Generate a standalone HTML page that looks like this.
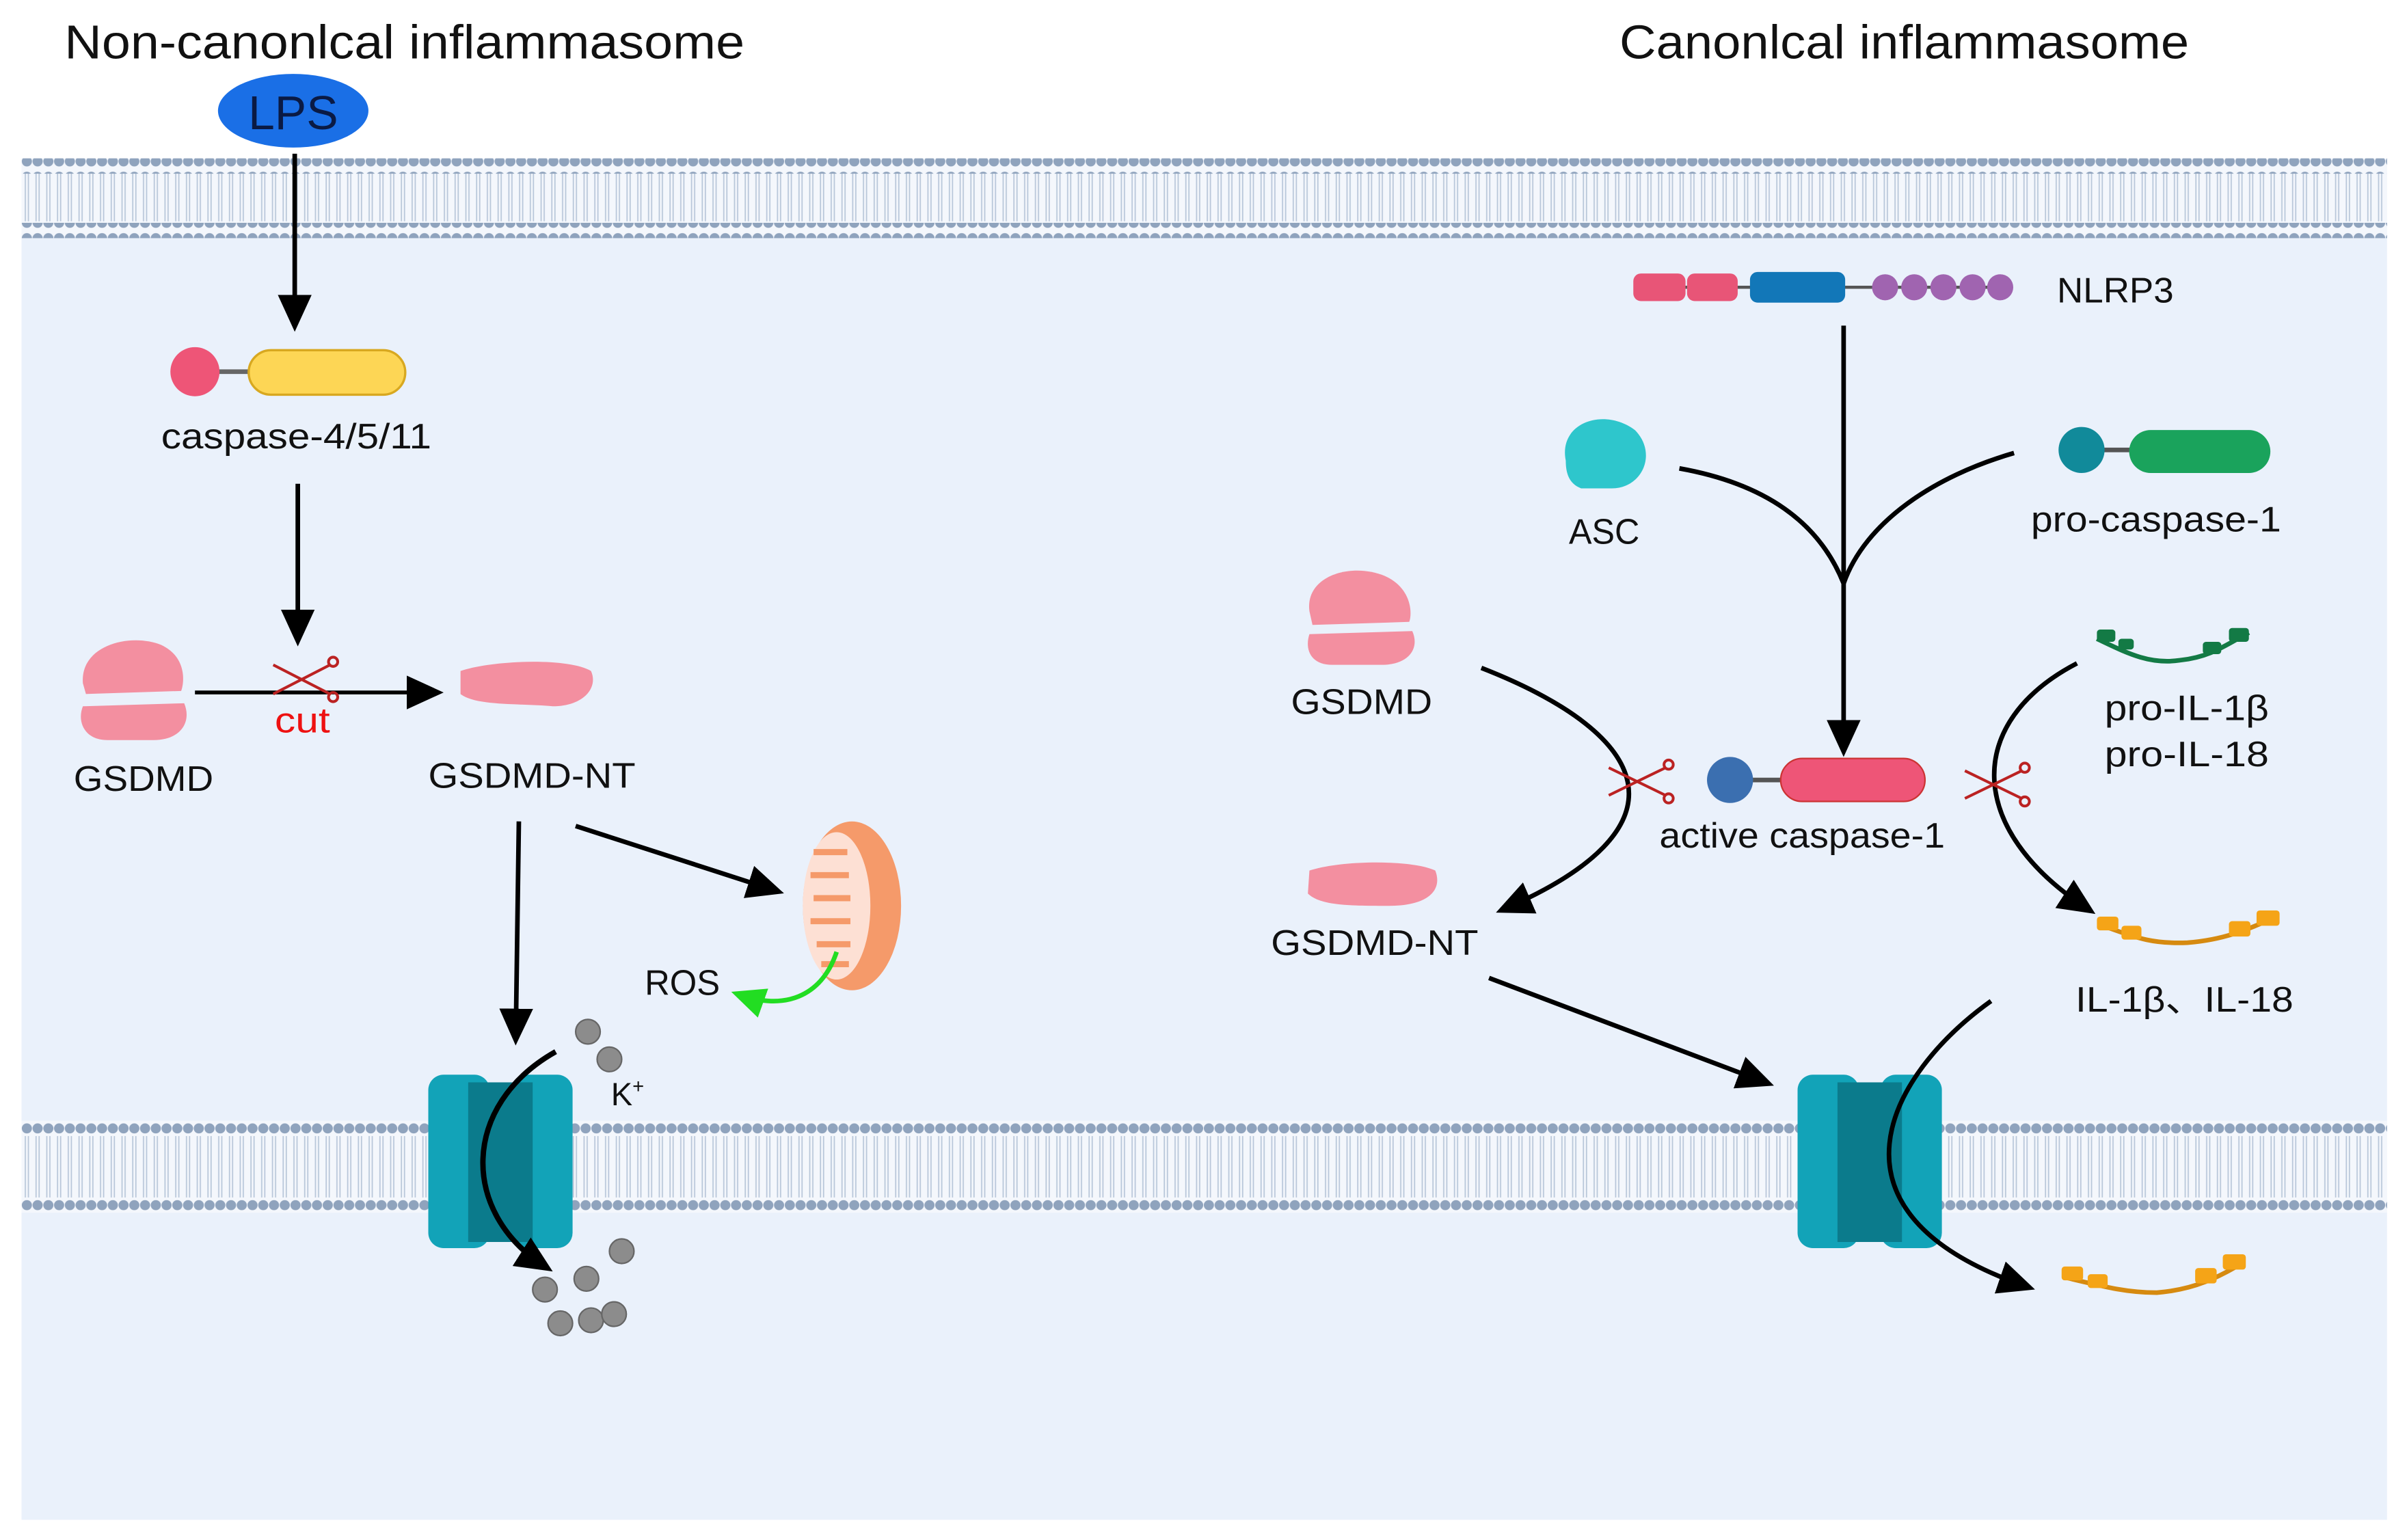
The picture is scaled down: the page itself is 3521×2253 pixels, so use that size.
<!DOCTYPE html>
<html><head><meta charset="utf-8"><style>
html,body{margin:0;padding:0;background:#fff}
svg{display:block}
text{font-family:"Liberation Sans","DejaVu Sans",sans-serif;fill:#111}
</style></head><body>
<svg width="3521" height="2253" viewBox="0 0 1568 1003" xmlns="http://www.w3.org/2000/svg">
<defs>
<marker id="ahb" markerWidth="24" markerHeight="22" refX="18" refY="11" orient="auto" markerUnits="userSpaceOnUse">
<path d="M0,0 L24,11 L0,22 z" fill="#000"/></marker>
<marker id="ahg" markerWidth="22" markerHeight="20" refX="16" refY="10" orient="auto" markerUnits="userSpaceOnUse">
<path d="M0,0 L22,10 L0,20 z" fill="#22dd22"/></marker>
<pattern id="beads" width="7" height="10" patternUnits="userSpaceOnUse">
<circle cx="3.5" cy="5" r="3.3" fill="#8fa3bd"/></pattern>
<pattern id="tails" width="7" height="30" patternUnits="userSpaceOnUse">
<line x1="2.5" y1="0" x2="2.5" y2="30" stroke="#b9c7da" stroke-width="0.8"/>
<line x1="4.5" y1="0" x2="4.5" y2="30" stroke="#b9c7da" stroke-width="0.8"/></pattern>
</defs>
<rect x="14" y="105" width="1541" height="885" fill="#eaf1fb"/>
<rect x="14" y="103" width="1541" height="52" fill="#f4f7fc"/>
<rect x="14" y="112" width="1541" height="32" fill="url(#tails)"/>
<rect x="14" y="103" width="1541" height="10" fill="url(#beads)"/>
<rect x="14" y="145" width="1541" height="10" fill="url(#beads)"/>
<rect x="14" y="730" width="1541" height="60" fill="#f4f7fc"/>
<rect x="14" y="740" width="1541" height="40" fill="url(#tails)"/>
<rect x="14" y="730" width="1541" height="10" fill="url(#beads)"/>
<rect x="14" y="780" width="1541" height="10" fill="url(#beads)"/>

<text x="42" y="38" font-size="31" textLength="443" lengthAdjust="spacingAndGlyphs">Non-canonlcal inflammasome</text>
<text x="1055" y="38" font-size="31" textLength="371" lengthAdjust="spacingAndGlyphs">Canonlcal inflammasome</text>

<ellipse cx="191" cy="72" rx="49" ry="24" fill="#1a6fe6"/>
<text x="191" y="84" font-size="31" text-anchor="middle" style="fill:#0a1a44">LPS</text>
<line x1="192" y1="100" x2="192" y2="210" stroke="#000" stroke-width="3" marker-end="url(#ahb)"/>
<line x1="140" y1="242" x2="165" y2="242" stroke="#666" stroke-width="3"/>
<circle cx="127" cy="242" r="16" fill="#ee5577"/>
<rect x="162" y="228" width="102" height="29" rx="14.5" fill="#fdd655" stroke="#d8a820" stroke-width="1.5"/>
<text x="105" y="292" font-size="23" textLength="176" lengthAdjust="spacingAndGlyphs">caspase-4/5/11</text>
<line x1="194" y1="315" x2="194" y2="415" stroke="#000" stroke-width="3" marker-end="url(#ahb)"/>

<g fill="#f38fa0">
<path d="M54,445 C52,420 85,412 105,420 C122,428 120,445 118,450 L56,452 Z"/>
<path d="M54,460 L120,458 C125,470 118,482 100,482 L70,482 C55,482 50,470 54,460 Z"/>
</g>
<text x="48" y="515" font-size="23" textLength="91" lengthAdjust="spacingAndGlyphs">GSDMD</text>
<line x1="127" y1="451" x2="283" y2="451" stroke="#000" stroke-width="2.5" marker-end="url(#ahb)"/>
<g stroke="#b22" stroke-width="1.8" fill="none">
<line x1="178" y1="433" x2="215" y2="452"/><line x1="178" y1="452" x2="215" y2="433"/>
<circle cx="217" cy="431" r="3"/><circle cx="217" cy="454" r="3"/></g>
<text x="179" y="477" font-size="23" textLength="36" lengthAdjust="spacingAndGlyphs" style="fill:#ee1111">cut</text>
<path d="M300,437 C320,430 370,428 385,437 C390,448 380,460 360,460 C340,458 310,460 300,452 Z" fill="#f38fa0"/>
<text x="279" y="513" font-size="23" textLength="135" lengthAdjust="spacingAndGlyphs">GSDMD-NT</text>
<line x1="338" y1="535" x2="336" y2="675" stroke="#000" stroke-width="3" marker-end="url(#ahb)"/>
<line x1="375" y1="538" x2="505" y2="580" stroke="#000" stroke-width="3" marker-end="url(#ahb)"/>
<ellipse cx="555" cy="590" rx="32" ry="55" fill="#f59a6a"/>
<ellipse cx="545" cy="590" rx="22" ry="48" fill="#fde0d4"/>
<path d="M530,555 h22 M528,570 h25 M530,585 h24 M528,600 h26 M532,615 h22 M535,628 h18" stroke="#f59a6a" stroke-width="4"/>
<text x="420" y="648" font-size="23" textLength="49" lengthAdjust="spacingAndGlyphs">ROS</text>
<path d="M545,620 C535,650 510,658 482,648" stroke="#22dd22" stroke-width="3" fill="none" marker-end="url(#ahg)"/>
<rect x="279" y="700" width="40" height="113" rx="10" fill="#12a3b8"/>
<rect x="333" y="700" width="40" height="113" rx="10" fill="#12a3b8"/>
<rect x="305" y="705" width="42" height="104" fill="#0b7b8c"/>
<path d="M362,685 C300,720 300,790 355,825" stroke="#000" stroke-width="3.5" fill="none" marker-end="url(#ahb)"/>
<g fill="#8c8c8c" stroke="#666" stroke-width="1">
<circle cx="383" cy="672" r="8"/><circle cx="397" cy="690" r="8"/>
<circle cx="405" cy="815" r="8"/><circle cx="382" cy="833" r="8"/><circle cx="355" cy="840" r="8"/>
<circle cx="365" cy="862" r="8"/><circle cx="385" cy="860" r="8"/><circle cx="400" cy="856" r="8"/>
</g>
<text x="398" y="720" font-size="21">K<tspan font-size="13" dy="-8">+</tspan></text>

<line x1="1070" y1="187" x2="1305" y2="187" stroke="#555" stroke-width="2"/>
<rect x="1064" y="178" width="34" height="18" rx="5" fill="#e85577"/>
<rect x="1099" y="178" width="33" height="18" rx="5" fill="#e85577"/>
<rect x="1140" y="177" width="62" height="20" rx="5" fill="#1277b8"/>
<g fill="#a064b0"><circle cx="1228" cy="187" r="8.5"/><circle cx="1247" cy="187" r="8.5"/><circle cx="1266" cy="187" r="8.5"/><circle cx="1285" cy="187" r="8.5"/><circle cx="1303" cy="187" r="8.5"/></g>
<text x="1340" y="197" font-size="23" textLength="76" lengthAdjust="spacingAndGlyphs">NLRP3</text>
<line x1="1201" y1="212" x2="1201" y2="487" stroke="#000" stroke-width="3" marker-end="url(#ahb)"/>
<path d="M1020,300 C1015,275 1045,265 1065,280 C1080,295 1070,318 1050,318 L1030,318 C1022,315 1020,308 1020,300 Z" fill="#2ec6cc"/>
<text x="1022" y="354" font-size="23" textLength="46" lengthAdjust="spacingAndGlyphs">ASC</text>
<path d="M1094,305 C1150,315 1185,340 1201,380 C1215,340 1260,310 1312,295" stroke="#000" stroke-width="3" fill="none"/>
<line x1="1365" y1="293" x2="1390" y2="293" stroke="#555" stroke-width="3"/>
<circle cx="1356" cy="293" r="15" fill="#118a9a"/>
<rect x="1387" y="280" width="92" height="28" rx="14" fill="#1aa35c"/>
<text x="1323" y="346" font-size="23" textLength="163" lengthAdjust="spacingAndGlyphs">pro-caspase-1</text>

<g fill="#f38fa0">
<path d="M853,398 C850,375 880,366 902,375 C920,383 920,400 918,405 L855,407 Z"/>
<path d="M853,413 L920,411 C925,422 918,433 900,433 L868,433 C853,433 850,422 853,413 Z"/>
</g>
<text x="841" y="465" font-size="23" textLength="92" lengthAdjust="spacingAndGlyphs">GSDMD</text>
<path d="M965,435 C1080,480 1100,540 980,592" stroke="#000" stroke-width="3" fill="none" marker-end="url(#ahb)"/>
<g stroke="#b22" stroke-width="1.8" fill="none">
<line x1="1048" y1="500" x2="1085" y2="518"/><line x1="1048" y1="518" x2="1085" y2="500"/>
<circle cx="1087" cy="498" r="3"/><circle cx="1087" cy="520" r="3"/></g>
<path d="M853,567 C875,560 920,560 935,567 C940,580 930,590 905,590 C880,590 860,590 852,582 Z" fill="#f38fa0"/>
<text x="828" y="622" font-size="23" textLength="135" lengthAdjust="spacingAndGlyphs">GSDMD-NT</text>
<line x1="970" y1="637" x2="1150" y2="705" stroke="#000" stroke-width="3" marker-end="url(#ahb)"/>

<line x1="1140" y1="508" x2="1165" y2="508" stroke="#555" stroke-width="3"/>
<circle cx="1127" cy="508" r="15" fill="#3b6fb0"/>
<rect x="1160" y="494" width="94" height="28" rx="14" fill="#ee5577" stroke="#c33" stroke-width="1"/>
<text x="1081" y="552" font-size="23" textLength="186" lengthAdjust="spacingAndGlyphs">active caspase-1</text>

<path d="M1366,416 C1385,425 1400,433 1420,430 C1440,428 1450,420 1465,412" stroke="#137a45" stroke-width="3" fill="none"/>
<g fill="#137a45"><rect x="1366" y="410" width="12" height="8" rx="2"/><rect x="1380" y="416" width="10" height="7" rx="2"/><rect x="1435" y="418" width="12" height="8" rx="2"/><rect x="1452" y="409" width="13" height="9" rx="2"/></g>
<text x="1371" y="469" font-size="23" textLength="107" lengthAdjust="spacingAndGlyphs">pro-IL-1β</text>
<text x="1371" y="499" font-size="23" textLength="107" lengthAdjust="spacingAndGlyphs">pro-IL-18</text>
<path d="M1353,432 C1280,470 1280,540 1360,592" stroke="#000" stroke-width="3" fill="none" marker-end="url(#ahb)"/>
<g stroke="#b22" stroke-width="1.8" fill="none">
<line x1="1280" y1="502" x2="1317" y2="520"/><line x1="1280" y1="520" x2="1317" y2="502"/>
<circle cx="1319" cy="500" r="3"/><circle cx="1319" cy="522" r="3"/></g>
<path d="M1367,602 C1390,610 1400,615 1425,614 C1450,612 1465,605 1483,597" stroke="#d68a10" stroke-width="3" fill="none"/>
<g fill="#f5a417"><rect x="1366" y="597" width="14" height="9" rx="2"/><rect x="1382" y="603" width="13" height="9" rx="2"/><rect x="1452" y="600" width="14" height="10" rx="2"/><rect x="1470" y="593" width="15" height="10" rx="2"/></g>
<text x="1352" y="659" font-size="23" textLength="142" lengthAdjust="spacingAndGlyphs">IL-1β、IL-18</text>

<rect x="1171" y="700" width="40" height="113" rx="10" fill="#12a3b8"/>
<rect x="1225" y="700" width="40" height="113" rx="10" fill="#12a3b8"/>
<rect x="1197" y="705" width="42" height="104" fill="#0b7b8c"/>
<path d="M1297,652 C1230,700 1180,790 1320,838" stroke="#000" stroke-width="3" fill="none" marker-end="url(#ahb)"/>
<path d="M1345,832 C1370,838 1385,842 1405,842 C1430,840 1445,832 1462,822" stroke="#d68a10" stroke-width="3" fill="none"/>
<g fill="#f5a417"><rect x="1343" y="825" width="14" height="9" rx="2"/><rect x="1360" y="830" width="13" height="9" rx="2"/><rect x="1430" y="826" width="14" height="10" rx="2"/><rect x="1448" y="817" width="15" height="10" rx="2"/></g>
</svg>
</body></html>
